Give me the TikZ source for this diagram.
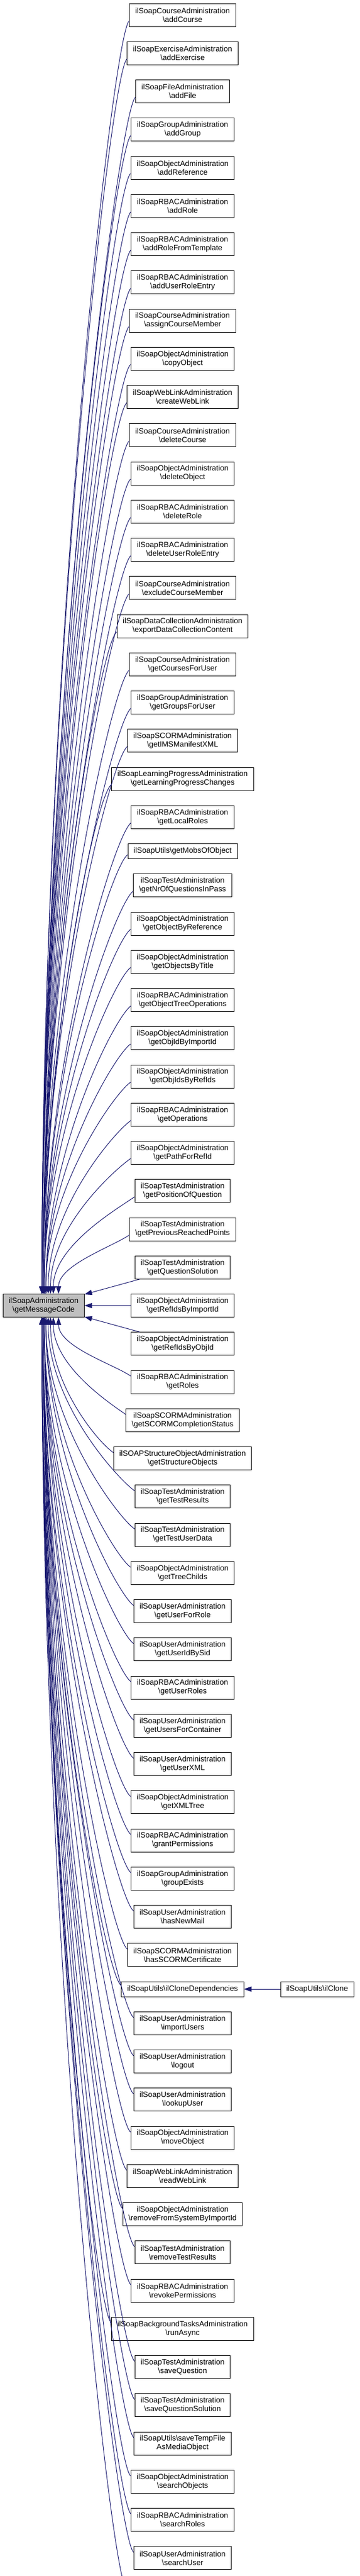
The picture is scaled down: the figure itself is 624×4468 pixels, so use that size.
\documentclass[tikz,border=0pt]{standalone}
\usepackage{fontspec}
\setmainfont{Liberation Sans}
\usepackage{tikz}
\usetikzlibrary{arrows.meta, positioning}
\definecolor{midnight}{HTML}{191970}
\definecolor{boxgray}{HTML}{BFBFBF}
\newcommand{\slsh}{\textbackslash}

\begin{document}
\begin{tikzpicture}[node distance={25.35pt},
	func/.style = {draw=black, line width=0.9pt, align=center, inner xsep=10pt, inner ysep=1pt, minimum height=40pt, font=\fontsize{13.3pt}{15pt}\selectfont},
	single/.style = {minimum height=26pt},
	main/.style = {func, fill=boxgray},
	call/.style = {draw=midnight, line width=1pt, -{Triangle[length=13pt, width=9pt]}, midnight}]
	\useasboundingbox (0pt,0pt) rectangle (624pt,-4468pt);
	\node[func] (1) at (317pt,-26pt) {ilSoapCourseAdministration\\\slsh addCourse};
	\node[func] (2) [below=of 1] {ilSoapExerciseAdministration\\\slsh addExercise};
	\node[func] (3) [below=of 2] {ilSoapFileAdministration\\\slsh addFile};
	\node[func] (4) [below=of 3] {ilSoapGroupAdministration\\\slsh addGroup};
	\node[func] (5) [below=of 4] {ilSoapObjectAdministration\\\slsh addReference};
	\node[func] (6) [below=of 5] {ilSoapRBACAdministration\\\slsh addRole};
	\node[func] (7) [below=of 6] {ilSoapRBACAdministration\\\slsh addRoleFromTemplate};
	\node[func] (8) [below=of 7] {ilSoapRBACAdministration\\\slsh addUserRoleEntry};
	\node[func] (9) [below=of 8] {ilSoapCourseAdministration\\\slsh assignCourseMember};
	\node[func] (10) [below=of 9] {ilSoapObjectAdministration\\\slsh copyObject};
	\node[func] (11) [below=of 10] {ilSoapWebLinkAdministration\\\slsh createWebLink};
	\node[func] (12) [below=of 11] {ilSoapCourseAdministration\\\slsh deleteCourse};
	\node[func] (13) [below=of 12] {ilSoapObjectAdministration\\\slsh deleteObject};
	\node[func] (14) [below=of 13] {ilSoapRBACAdministration\\\slsh deleteRole};
	\node[func] (15) [below=of 14] {ilSoapRBACAdministration\\\slsh deleteUserRoleEntry};
	\node[func] (16) [below=of 15] {ilSoapCourseAdministration\\\slsh excludeCourseMember};
	\node[func] (17) [below=of 16] {ilSoapDataCollectionAdministration\\\slsh exportDataCollectionContent};
	\node[func] (18) [below=of 17] {ilSoapCourseAdministration\\\slsh getCoursesForUser};
	\node[func] (19) [below=of 18] {ilSoapGroupAdministration\\\slsh getGroupsForUser};
	\node[func] (20) [below=of 19] {ilSoapSCORMAdministration\\\slsh getIMSManifestXML};
	\node[func] (21) [below=of 20] {ilSoapLearningProgressAdministration\\\slsh getLearningProgressChanges};
	\node[func] (22) [below=of 21] {ilSoapRBACAdministration\\\slsh getLocalRoles};
	\node[func, single] (23) [below=of 22] {ilSoapUtils\slsh getMobsOfObject};
	\node[func] (24) [below=of 23] {ilSoapTestAdministration\\\slsh getNrOfQuestionsInPass};
	\node[func] (25) [below=of 24] {ilSoapObjectAdministration\\\slsh getObjectByReference};
	\node[func] (26) [below=of 25] {ilSoapObjectAdministration\\\slsh getObjectsByTitle};
	\node[func] (27) [below=of 26] {ilSoapRBACAdministration\\\slsh getObjectTreeOperations};
	\node[func] (28) [below=of 27] {ilSoapObjectAdministration\\\slsh getObjIdByImportId};
	\node[func] (29) [below=of 28] {ilSoapObjectAdministration\\\slsh getObjIdsByRefIds};
	\node[func] (30) [below=of 29] {ilSoapRBACAdministration\\\slsh getOperations};
	\node[func] (31) [below=of 30] {ilSoapObjectAdministration\\\slsh getPathForRefId};
	\node[func] (32) [below=of 31] {ilSoapTestAdministration\\\slsh getPositionOfQuestion};
	\node[func] (33) [below=of 32] {ilSoapTestAdministration\\\slsh getPreviousReachedPoints};
	\node[func] (34) [below=of 33] {ilSoapTestAdministration\\\slsh getQuestionSolution};
	\node[func] (35) [below=of 34] {ilSoapObjectAdministration\\\slsh getRefIdsByImportId};
	\node[func] (36) [below=of 35] {ilSoapObjectAdministration\\\slsh getRefIdsByObjId};
	\node[func] (37) [below=of 36] {ilSoapRBACAdministration\\\slsh getRoles};
	\node[func] (38) [below=of 37] {ilSoapSCORMAdministration\\\slsh getSCORMCompletionStatus};
	\node[func] (39) [below=of 38] {ilSOAPStructureObjectAdministration\\\slsh getStructureObjects};
	\node[func] (40) [below=of 39] {ilSoapTestAdministration\\\slsh getTestResults};
	\node[func] (41) [below=of 40] {ilSoapTestAdministration\\\slsh getTestUserData};
	\node[func] (42) [below=of 41] {ilSoapObjectAdministration\\\slsh getTreeChilds};
	\node[func] (43) [below=of 42] {ilSoapUserAdministration\\\slsh getUserForRole};
	\node[func] (44) [below=of 43] {ilSoapUserAdministration\\\slsh getUserIdBySid};
	\node[func] (45) [below=of 44] {ilSoapRBACAdministration\\\slsh getUserRoles};
	\node[func] (46) [below=of 45] {ilSoapUserAdministration\\\slsh getUsersForContainer};
	\node[func] (47) [below=of 46] {ilSoapUserAdministration\\\slsh getUserXML};
	\node[func] (48) [below=of 47] {ilSoapObjectAdministration\\\slsh getXMLTree};
	\node[func] (49) [below=of 48] {ilSoapRBACAdministration\\\slsh grantPermissions};
	\node[func] (50) [below=of 49] {ilSoapGroupAdministration\\\slsh groupExists};
	\node[func] (51) [below=of 50] {ilSoapUserAdministration\\\slsh hasNewMail};
	\node[func] (52) [below=of 51] {ilSoapSCORMAdministration\\\slsh hasSCORMCertificate};
	\node[func, single] (53) [below=of 52] {ilSoapUtils\slsh ilCloneDependencies};
	\node[func] (54) [below=of 53] {ilSoapUserAdministration\\\slsh importUsers};
	\node[func] (55) [below=of 54] {ilSoapUserAdministration\\\slsh logout};
	\node[func] (56) [below=of 55] {ilSoapUserAdministration\\\slsh lookupUser};
	\node[func] (57) [below=of 56] {ilSoapObjectAdministration\\\slsh moveObject};
	\node[func] (58) [below=of 57] {ilSoapWebLinkAdministration\\\slsh readWebLink};
	\node[func] (59) [below=of 58] {ilSoapObjectAdministration\\\slsh removeFromSystemByImportId};
	\node[func] (60) [below=of 59] {ilSoapTestAdministration\\\slsh removeTestResults};
	\node[func] (61) [below=of 60] {ilSoapRBACAdministration\\\slsh revokePermissions};
	\node[func] (62) [below=of 61] {ilSoapBackgroundTasksAdministration\\\slsh runAsync};
	\node[func] (63) [below=of 62] {ilSoapTestAdministration\\\slsh saveQuestion};
	\node[func] (64) [below=of 63] {ilSoapTestAdministration\\\slsh saveQuestionSolution};
	\node[func] (65) [below=of 64] {ilSoapUtils\slsh saveTempFile\\AsMediaObject};
	\node[func] (66) [below=of 65] {ilSoapObjectAdministration\\\slsh searchObjects};
	\node[func] (67) [below=of 66] {ilSoapRBACAdministration\\\slsh searchRoles};
	\node[func] (68) [below=of 67] {ilSoapUserAdministration\\\slsh searchUser};
	\node[func] (69) [below=of 68] {ilSoapWebLinkAdministration\\\slsh updateWebLink};
	\node[main] (0) [left=80pt of 35] {ilSoapAdministration\\\slsh getMessageCode};
	\node[func, single] (70) [right=63pt of 53] {ilSoapUtils\slsh ilClone};
	\draw[call] ([yshift=-10pt]1.west) .. controls +(215:35pt) and +(0pt,1088pt) .. ([xshift=-3pt]0.north);
	\draw[call] ([yshift=-10pt]2.west) .. controls +(215:35pt) and +(0pt,1056pt) .. ([xshift=-3pt]0.north);
	\draw[call] ([yshift=-10pt]3.west) .. controls +(215:35pt) and +(0pt,1023pt) .. ([xshift=-3pt]0.north);
	\draw[call] ([yshift=-10pt]4.west) .. controls +(215:35pt) and +(0pt,990pt) .. ([xshift=-3pt]0.north);
	\draw[call] ([yshift=-10pt]5.west) .. controls +(215:35pt) and +(0pt,958pt) .. ([xshift=-3pt]0.north);
	\draw[call] ([yshift=-10pt]6.west) .. controls +(215:35pt) and +(0pt,925pt) .. ([xshift=-3pt]0.north);
	\draw[call] ([yshift=-10pt]7.west) .. controls +(215:35pt) and +(0pt,892pt) .. ([xshift=-3pt]0.north);
	\draw[call] ([yshift=-10pt]8.west) .. controls +(215:35pt) and +(0pt,860pt) .. ([xshift=-3pt]0.north);
	\draw[call] ([yshift=-10pt]9.west) .. controls +(215:35pt) and +(0pt,827pt) .. ([xshift=-3pt]0.north);
	\draw[call] ([yshift=-10pt]10.west) .. controls +(215:35pt) and +(0pt,794pt) .. ([xshift=-3pt]0.north);
	\draw[call] ([yshift=-10pt]11.west) .. controls +(215:35pt) and +(0pt,762pt) .. ([xshift=-1pt]0.north);
	\draw[call] ([yshift=-10pt]12.west) .. controls +(215:35pt) and +(0pt,729pt) .. ([xshift=-1pt]0.north);
	\draw[call] ([yshift=-10pt]13.west) .. controls +(215:35pt) and +(0pt,696pt) .. ([xshift=-1pt]0.north);
	\draw[call] ([yshift=-10pt]14.west) .. controls +(215:35pt) and +(0pt,664pt) .. ([xshift=-1pt]0.north);
	\draw[call] ([yshift=-10pt]15.west) .. controls +(215:35pt) and +(0pt,631pt) .. ([xshift=-1pt]0.north);
	\draw[call] ([yshift=-10pt]16.west) .. controls +(215:35pt) and +(0pt,598pt) .. ([xshift=-1pt]0.north);
	\draw[call] ([yshift=-10pt]17.west) .. controls +(215:35pt) and +(0pt,566pt) .. ([xshift=-1pt]0.north);
	\draw[call] ([yshift=-10pt]18.west) .. controls +(215:35pt) and +(0pt,533pt) .. ([xshift=-1pt]0.north);
	\draw[call] ([yshift=-10pt]19.west) .. controls +(215:35pt) and +(0pt,500pt) .. ([xshift=-1pt]0.north);
	\draw[call] ([yshift=-10pt]20.west) .. controls +(215:35pt) and +(0pt,468pt) .. ([xshift=-1pt]0.north);
	\draw[call] ([yshift=-10pt]21.west) .. controls +(215:35pt) and +(0pt,435pt) .. ([xshift=1pt]0.north);
	\draw[call] ([yshift=-10pt]22.west) .. controls +(215:35pt) and +(0pt,402pt) .. ([xshift=1pt]0.north);
	\draw[call] ([yshift=-6pt]23.west) .. controls +(215:35pt) and +(0pt,375pt) .. ([xshift=1pt]0.north);
	\draw[call] ([yshift=-10pt]24.west) .. controls +(215:35pt) and +(0pt,344pt) .. ([xshift=1pt]0.north);
	\draw[call] ([yshift=-10pt]25.west) .. controls +(215:35pt) and +(0pt,311pt) .. ([xshift=1pt]0.north);
	\draw[call] ([yshift=-10pt]26.west) .. controls +(215:35pt) and +(0pt,279pt) .. ([xshift=1pt]0.north);
	\draw[call] ([yshift=-10pt]27.west) .. controls +(215:35pt) and +(0pt,246pt) .. ([xshift=4pt]0.north);
	\draw[call] ([yshift=-10pt]28.west) .. controls +(215:35pt) and +(0pt,213pt) .. ([xshift=4pt]0.north);
	\draw[call] ([yshift=-10pt]29.west) .. controls +(215:35pt) and +(0pt,181pt) .. ([xshift=4pt]0.north);
	\draw[call] ([yshift=-10pt]30.west) .. controls +(215:35pt) and +(0pt,148pt) .. ([xshift=8pt]0.north);
	\draw[call] ([yshift=-10pt]31.west) .. controls +(215:35pt) and +(0pt,115pt) .. ([xshift=12pt]0.north);
	\draw[call] ([yshift=-10pt]32.west) .. controls +(215:35pt) and +(0pt,83pt) .. ([xshift=17pt]0.north);
	\draw[call] ([yshift=-10pt]33.west) .. controls +(215:35pt) and +(0pt,50pt) .. ([xshift=26pt]0.north);
	\draw[call] (34) -- (0);
	\draw[call] (35) -- (0);
	\draw[call] (36) -- (0);
	\draw[call] ([yshift=10pt]37.west) .. controls +(145:35pt) and +(0pt,-51pt) .. ([xshift=26pt]0.south);
	\draw[call] ([yshift=10pt]38.west) .. controls +(145:35pt) and +(0pt,-84pt) .. ([xshift=17pt]0.south);
	\draw[call] ([yshift=10pt]39.west) .. controls +(145:35pt) and +(0pt,-116pt) .. ([xshift=12pt]0.south);
	\draw[call] ([yshift=10pt]40.west) .. controls +(145:35pt) and +(0pt,-149pt) .. ([xshift=8pt]0.south);
	\draw[call] ([yshift=10pt]41.west) .. controls +(145:35pt) and +(0pt,-182pt) .. ([xshift=4pt]0.south);
	\draw[call] ([yshift=10pt]42.west) .. controls +(145:35pt) and +(0pt,-214pt) .. ([xshift=4pt]0.south);
	\draw[call] ([yshift=10pt]43.west) .. controls +(145:35pt) and +(0pt,-247pt) .. ([xshift=4pt]0.south);
	\draw[call] ([yshift=10pt]44.west) .. controls +(145:35pt) and +(0pt,-280pt) .. ([xshift=1pt]0.south);
	\draw[call] ([yshift=10pt]45.west) .. controls +(145:35pt) and +(0pt,-312pt) .. ([xshift=1pt]0.south);
	\draw[call] ([yshift=10pt]46.west) .. controls +(145:35pt) and +(0pt,-345pt) .. ([xshift=1pt]0.south);
	\draw[call] ([yshift=10pt]47.west) .. controls +(145:35pt) and +(0pt,-378pt) .. ([xshift=1pt]0.south);
	\draw[call] ([yshift=10pt]48.west) .. controls +(145:35pt) and +(0pt,-410pt) .. ([xshift=1pt]0.south);
	\draw[call] ([yshift=10pt]49.west) .. controls +(145:35pt) and +(0pt,-443pt) .. ([xshift=1pt]0.south);
	\draw[call] ([yshift=10pt]50.west) .. controls +(145:35pt) and +(0pt,-476pt) .. ([xshift=-1pt]0.south);
	\draw[call] ([yshift=10pt]51.west) .. controls +(145:35pt) and +(0pt,-508pt) .. ([xshift=-1pt]0.south);
	\draw[call] ([yshift=10pt]52.west) .. controls +(145:35pt) and +(0pt,-541pt) .. ([xshift=-1pt]0.south);
	\draw[call] ([yshift=6pt]53.west) .. controls +(145:35pt) and +(0pt,-572pt) .. ([xshift=-1pt]0.south);
	\draw[call] ([yshift=10pt]54.west) .. controls +(145:35pt) and +(0pt,-599pt) .. ([xshift=-1pt]0.south);
	\draw[call] ([yshift=10pt]55.west) .. controls +(145:35pt) and +(0pt,-632pt) .. ([xshift=-1pt]0.south);
	\draw[call] ([yshift=10pt]56.west) .. controls +(145:35pt) and +(0pt,-665pt) .. ([xshift=-1pt]0.south);
	\draw[call] ([yshift=10pt]57.west) .. controls +(145:35pt) and +(0pt,-697pt) .. ([xshift=-1pt]0.south);
	\draw[call] ([yshift=10pt]58.west) .. controls +(145:35pt) and +(0pt,-730pt) .. ([xshift=-1pt]0.south);
	\draw[call] ([yshift=10pt]59.west) .. controls +(145:35pt) and +(0pt,-763pt) .. ([xshift=-1pt]0.south);
	\draw[call] ([yshift=10pt]60.west) .. controls +(145:35pt) and +(0pt,-795pt) .. ([xshift=-3pt]0.south);
	\draw[call] ([yshift=10pt]61.west) .. controls +(145:35pt) and +(0pt,-828pt) .. ([xshift=-3pt]0.south);
	\draw[call] ([yshift=10pt]62.west) .. controls +(145:35pt) and +(0pt,-861pt) .. ([xshift=-3pt]0.south);
	\draw[call] ([yshift=10pt]63.west) .. controls +(145:35pt) and +(0pt,-893pt) .. ([xshift=-3pt]0.south);
	\draw[call] ([yshift=10pt]64.west) .. controls +(145:35pt) and +(0pt,-926pt) .. ([xshift=-3pt]0.south);
	\draw[call] ([yshift=10pt]65.west) .. controls +(145:35pt) and +(0pt,-959pt) .. ([xshift=-3pt]0.south);
	\draw[call] ([yshift=10pt]66.west) .. controls +(145:35pt) and +(0pt,-991pt) .. ([xshift=-3pt]0.south);
	\draw[call] ([yshift=10pt]67.west) .. controls +(145:35pt) and +(0pt,-1024pt) .. ([xshift=-3pt]0.south);
	\draw[call] ([yshift=10pt]68.west) .. controls +(145:35pt) and +(0pt,-1057pt) .. ([xshift=-3pt]0.south);
	\draw[call] ([yshift=10pt]69.west) .. controls +(145:35pt) and +(0pt,-1089pt) .. ([xshift=-3pt]0.south);
	\draw[call] (70) -- (53);
\end{tikzpicture}
\end{document}
